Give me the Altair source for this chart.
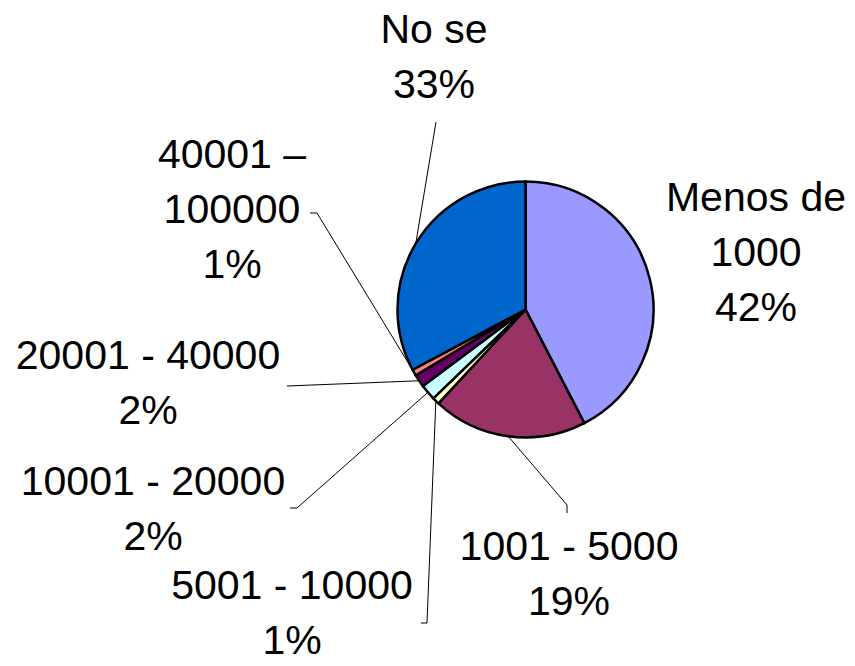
import math
import altair as alt
import pandas as pd

# ---- data ----
categories = ["Menos de 1000", "1001 - 5000", "5001 - 10000", "10001 - 20000",
              "20001 - 40000", "40001 – 100000", "No se"]
values = [42.4, 19.5, 0.9, 2.0, 1.6, 0.8, 32.8]
pct_labels = ["42%", "19%", "1%", "2%", "2%", "1%", "33%"]
name_lines = ["Menos de\n1000", "1001 - 5000", "5001 - 10000", "10001 - 20000",
              "20001 - 40000", "40001 –\n100000", "No se"]
colors = ["#9999FF", "#993366", "#FFFFCC", "#CCFFFF", "#660066", "#FF8080", "#0066CC"]

# ---- layout (page pixels): centre of each label's first line ----
M = 8
CX, CY, R = 525.5 - M, 309.5 - M, 128
label_first_line = {
    "Menos de 1000": (756, 199),
    "1001 - 5000": (569, 548),
    "5001 - 10000": (292, 587),
    "10001 - 20000": (153, 483),
    "20001 - 40000": (148, 357),
    "40001 – 100000": (232, 156),
    "No se": (434, 31),
}
leader_tail = {
    "1001 - 5000": [(567, 505), (567, 513)],
    "5001 - 10000": [(427, 623), (421, 623)],
    "10001 - 20000": [(297, 508), (290, 508)],
    "20001 - 40000": [(287, 386)],
    "40001 – 100000": [(317, 213), (310, 213)],
    "No se": [(436, 122)],
}

pie_df = pd.DataFrame({"cat": categories, "value": values, "order": range(len(categories))})

total = sum(values)
rows = []
cum = 0.0
for cat, v in zip(categories, values):
    mid = (cum + v / 2) / total * 2 * math.pi
    cum += v
    if cat not in leader_tail:
        continue
    sx = CX + R * math.sin(mid)
    sy = CY - R * math.cos(mid)
    rows.append({"cat": cat, "seq": 0, "px": sx, "py": sy})
    for i, (x, y) in enumerate(leader_tail[cat]):
        rows.append({"cat": cat, "seq": i + 1, "px": x - M, "py": y - M})
lines_df = pd.DataFrame(rows)

lab_df = pd.DataFrame({
    "cat": categories,
    "label": [n + "\n" + p for n, p in zip(name_lines, pct_labels)],
    "lx": [label_first_line[c][0] - M for c in categories],
    "ly": [label_first_line[c][1] - M for c in categories],
})

pie = alt.Chart(pie_df).mark_arc(radius=R, stroke="black", strokeWidth=2.5).encode(
    theta=alt.Theta("value:Q", stack=True),
    color=alt.Color("cat:N", scale=alt.Scale(domain=categories, range=colors), legend=None),
    order=alt.Order("order:Q"),
    x=alt.value(CX),
    y=alt.value(CY),
)

leaders = alt.Chart(lines_df).mark_line(color="black", strokeWidth=1).encode(
    x=alt.X("px:Q", scale=None, axis=None),
    y=alt.Y("py:Q", scale=None, axis=None),
    detail="cat:N",
    order="seq:Q",
)

labels = alt.Chart(lab_df).mark_text(
    font="Liberation Sans", fontSize=41, lineBreak="\n", lineHeight=55,
    align="center", baseline="middle", color="black",
).encode(
    x=alt.X("lx:Q", scale=None, axis=None),
    y=alt.Y("ly:Q", scale=None, axis=None),
    text="label:N",
)

chart = alt.layer(pie, leaders, labels).properties(
    width=839, height=658, autosize="none", padding=0, background="white"
).configure_view(stroke=None)

chart.save("out.html", embed_options={"renderer": "svg", "actions": False})
